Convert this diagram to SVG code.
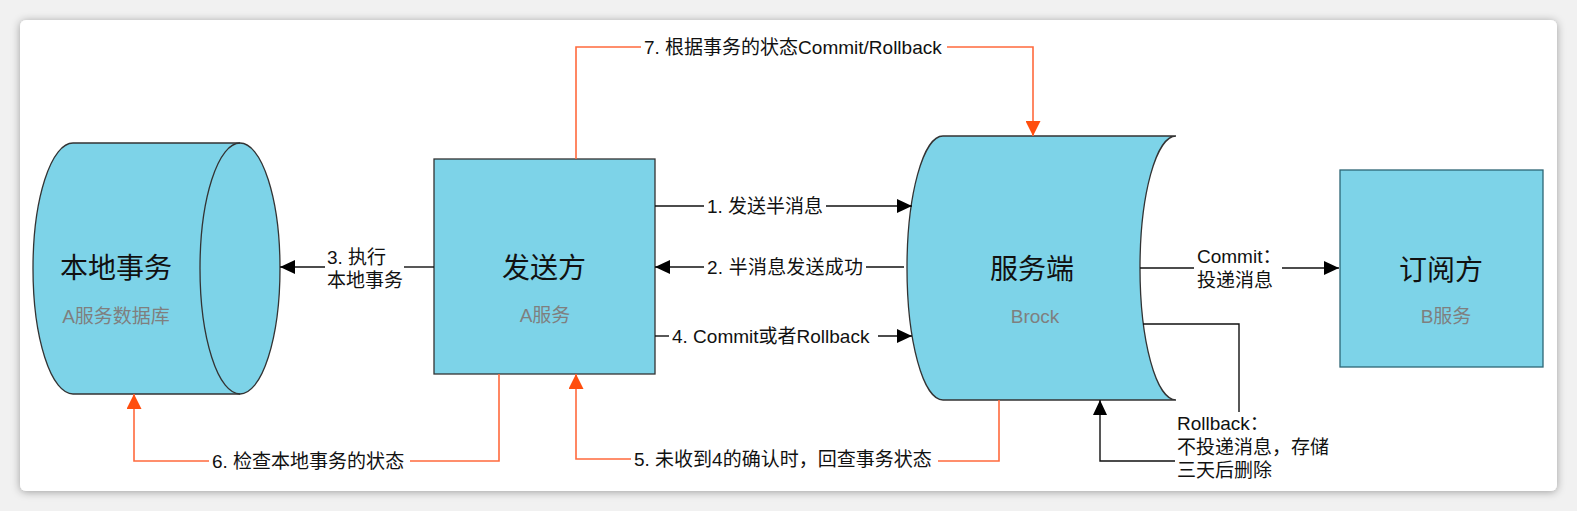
<svg xmlns="http://www.w3.org/2000/svg" width="1577" height="511" viewBox="0 0 1577 511">
<style>
text{font-family:"Liberation Sans","Noto Sans CJK SC",sans-serif}
.title{font-size:28px;fill:#111;text-anchor:middle}
.sub{font-size:19px;fill:#7f7f7f;text-anchor:middle}
.lbl{font-size:19px;fill:#111}
.node{fill:#7DD3E8;stroke:#333;stroke-width:1.3}
.blk{fill:none;stroke:#111;stroke-width:1.4}
.org{fill:none;stroke:#FF6A3D;stroke-width:1.6}
</style>
<defs>
<filter id="sh" x="-5%" y="-10%" width="110%" height="120%">
<feDropShadow dx="0" dy="1" stdDeviation="4" flood-color="#000" flood-opacity="0.35"/>
</filter>
<marker id="ab" markerUnits="userSpaceOnUse" markerWidth="16" markerHeight="14" refX="15" refY="7" orient="auto">
<path d="M0,0 L15,7 L0,14 Z" fill="#000"/>
</marker>
<marker id="ao" markerUnits="userSpaceOnUse" markerWidth="16" markerHeight="15" refX="15" refY="7.5" orient="auto">
<path d="M0,0 L15,7.5 L0,15 Z" fill="#FF4E0E"/>
</marker>
</defs>
<rect x="0" y="0" width="1577" height="511" fill="#f1f1f1"/>
<rect x="20" y="20" width="1537" height="471" rx="6" fill="#fff" filter="url(#sh)"/>

<g id="local-tx">
<path class="node" d="M73,143 H240 A40,125.5 0 0 1 240,394 H73 A40,125.5 0 0 1 73,143 Z"/>
<path d="M240,143 A40,125.5 0 0 0 240,394" fill="none" stroke="#333" stroke-width="1.3"/>
<text class="title" x="116" y="278">本地事务</text>
<text class="sub" x="116" y="323">A服务数据库</text>
</g>

<g id="sender">
<rect class="node" x="434" y="159" width="221" height="215"/>
<text class="title" x="544" y="278">发送方</text>
<text class="sub" x="545" y="322">A服务</text>
</g>

<g id="broker">
<path class="node" d="M943,136 H1176 A36,132 0 0 0 1176,400 H943 A36,132 0 0 1 943,136 Z"/>
<text class="title" x="1032" y="279">服务端</text>
<text class="sub" x="1035" y="323">Brock</text>
</g>

<g id="subscriber">
<rect class="node" x="1340" y="170" width="203" height="197" style="stroke:#2d6675"/>
<text class="title" x="1441" y="280">订阅方</text>
<text class="sub" x="1446" y="323">B服务</text>
</g>

<g id="connectors">
<!-- 1 -->
<path class="blk" d="M655,206 H704"/>
<path class="blk" d="M826,206 H912" marker-end="url(#ab)"/>
<text class="lbl" x="707" y="213">1. 发送半消息</text>
<!-- 2 -->
<path class="blk" d="M904,267 H866"/>
<path class="blk" d="M704,267 H655" marker-end="url(#ab)"/>
<text class="lbl" x="707" y="274" textLength="156" lengthAdjust="spacing">2. 半消息发送成功</text>
<!-- 4 -->
<path class="blk" d="M655,336 H669"/>
<path class="blk" d="M878,336 H912" marker-end="url(#ab)"/>
<text class="lbl" x="672" y="343">4. Commit或者Rollback</text>
<!-- 3 -->
<path class="blk" d="M434,267 H404"/>
<path class="blk" d="M325,267 H280" marker-end="url(#ab)"/>
<text class="lbl" x="327" y="264">3. 执行</text>
<text class="lbl" x="327" y="287">本地事务</text>
<!-- 7 -->
<path class="org" d="M576,159 V47 H641"/>
<path class="org" d="M947,47 H1033 V136" marker-end="url(#ao)"/>
<text class="lbl" x="644" y="54">7. 根据事务的状态Commit/Rollback</text>
<!-- 6 -->
<path class="org" d="M499,374 V461 H410"/>
<path class="org" d="M209,461 H134 V394" marker-end="url(#ao)"/>
<text class="lbl" x="212" y="468">6. 检查本地事务的状态</text>
<!-- 5 -->
<path class="org" d="M999,400 V461 H938"/>
<path class="org" d="M631,459 H576 V374" marker-end="url(#ao)"/>
<text class="lbl" x="634" y="466">5. 未收到4的确认时，回查事务状态</text>
<!-- commit -->
<path class="blk" d="M1140,268 H1194"/>
<path class="blk" d="M1282,268 H1339" marker-end="url(#ab)"/>
<text class="lbl" x="1197" y="263">Commit：</text>
<text class="lbl" x="1197" y="287">投递消息</text>
<!-- rollback -->
<path class="blk" d="M1143,324 H1239 V412"/>
<path class="blk" d="M1175,461 H1100 V400" marker-end="url(#ab)"/>
<text class="lbl" x="1177" y="430">Rollback：</text>
<text class="lbl" x="1177" y="454">不投递消息，存储</text>
<text class="lbl" x="1177" y="477">三天后删除</text>
</g>
</svg>
